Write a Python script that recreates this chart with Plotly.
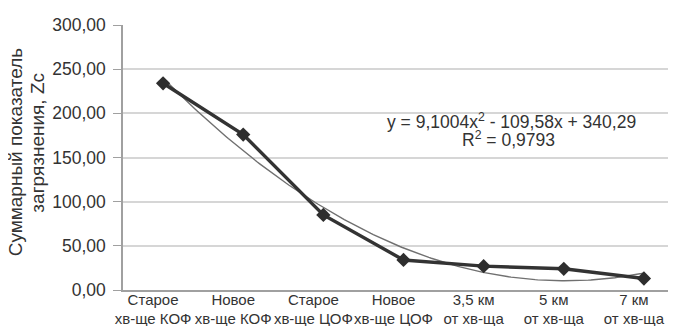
import numpy as np
import plotly.graph_objects as go

categories = ["Старое<br>хв-ще КОФ", "Новое<br>хв-ще КОФ", "Старое<br>хв-ще ЦОФ",
              "Новое<br>хв-ще ЦОФ", "3,5 км<br>от хв-ща", "5 км<br>от хв-ща", "7 км<br>от хв-ща"]
zc_values = [234, 176, 85, 34, 27, 24, 13]
trend_coef = [9.1004, -109.58, 340.29]  # y = a x^2 + b x + c
y_ticks = [0, 50, 100, 150, 200, 250, 300]
y_title_lines = ["Суммарный показатель", "загрязнения, Zc"]
eq_lines = ["y = 9,1004x<sup>2</sup> - 109,58x + 340,29", "R<sup>2</sup> = 0,9793"]

x_idx = list(range(1, len(categories) + 1))
xs = np.linspace(1, len(categories), 200)
trend_y = np.polyval(trend_coef, xs)

font_family = "Liberation Sans, Arial, sans-serif"
txt = "#333333"

fig = go.Figure()
fig.add_trace(go.Scatter(x=xs, y=trend_y, mode="lines",
                         line=dict(color="#707070", width=1.4), hoverinfo="skip",
                         showlegend=False))
fig.add_trace(go.Scatter(x=x_idx, y=zc_values, mode="lines+markers",
                         line=dict(color="#333333", width=3.4),
                         marker=dict(symbol="diamond", size=11, color="#2e2e2e"),
                         showlegend=False))

for line, xp, yp in zip(eq_lines, [0.693, 0.688], [0.638, 0.568]):
    fig.add_annotation(x=xp, y=yp, xref="paper", yref="paper", showarrow=False,
                       text=line, xanchor="center", yanchor="middle",
                       font=dict(family=font_family, size=17.5, color=txt))

for line, xp, yp in zip(y_title_lines, [-0.19, -0.152], [0.521, 0.555]):
    fig.add_annotation(x=xp, y=yp, xref="paper", yref="paper", showarrow=False,
                       text=line, textangle=-90, xanchor="center", yanchor="middle",
                       font=dict(family=font_family, size=19, color=txt))

fig.update_layout(
    width=676, height=326,
    margin=dict(l=115, r=0, t=17, b=44),
    paper_bgcolor="white", plot_bgcolor="white",
    separators=", ",
    font=dict(family=font_family, size=16, color=txt),
    xaxis=dict(range=[0.5, len(categories) + 0.5], tickvals=x_idx, ticktext=categories,
               tickangle=0, automargin=False, ticklabelshift=-10, ticklabelstandoff=-5,
               showgrid=False, showline=True, linecolor="#a0a0a0", linewidth=1.5,
               ticks="", zeroline=False, tickfont=dict(size=15, color=txt)),
    yaxis=dict(range=[0, 300], tickvals=y_ticks, tickformat=".2f", automargin=False,
               ticklabelstandoff=4,
               showgrid=True, gridcolor="#d6d6d6", gridwidth=1.6,
               showline=True, linecolor="#a0a0a0", linewidth=1.5,
               ticks="outside", ticklen=8, tickcolor="#a0a0a0",
               zeroline=False, tickfont=dict(size=17.5, color=txt)),
)

fig.write_html("out.html")
